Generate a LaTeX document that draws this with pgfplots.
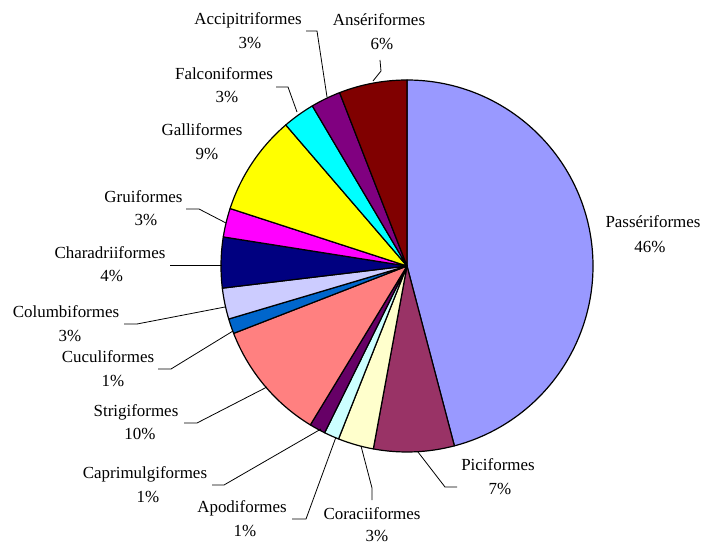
\documentclass[border=0pt]{standalone}
\usepackage{pgfplots}
\pgfplotsset{compat=1.18}
\usepackage{fontspec}
\setmainfont{Liberation Serif}
\definecolor{cPass}{HTML}{9999FF}
\definecolor{cPici}{HTML}{993366}
\definecolor{cCora}{HTML}{FFFFCC}
\definecolor{cApod}{HTML}{CCFFFF}
\definecolor{cCapr}{HTML}{660066}
\definecolor{cStri}{HTML}{FF8080}
\definecolor{cCucu}{HTML}{0066CC}
\definecolor{cColu}{HTML}{CCCCFF}
\definecolor{cChar}{HTML}{000080}
\definecolor{cGrui}{HTML}{FF00FF}
\definecolor{cGall}{HTML}{FFFF00}
\definecolor{cFalc}{HTML}{00FFFF}
\definecolor{cAcci}{HTML}{800080}
\definecolor{cAnse}{HTML}{800000}
\newcommand\lbl{\fontsize{17}{24}\selectfont}
\gdef\cum{0}
% value (percent of the whole), colour
\newcommand\slice[2]{%
  \pgfmathsetmacro\sa{90-3.6*\cum}%
  \pgfmathsetmacro\newcum{\cum+#1}%
  \pgfmathsetmacro\ea{90-3.6*\newcum}%
  \xdef\cum{\newcum}%
  \edef\temp{\noexpand\filldraw[fill=#2,draw=black,line width=1.2bp,line join=round] (axis cs:407,266) -- ++(\sa:186bp) arc[start angle=\sa, end angle=\ea, radius=186bp] -- cycle;}%
  \temp}
\begin{document}
\begin{tikzpicture}
\begin{axis}[hide axis, x=1bp, y=1bp, xmin=0, xmax=704, ymin=0, ymax=545,
  y dir=reverse, scale only axis, enlargelimits=false, clip=false]
\slice{45.9}{cPass}
\slice{7.0}{cPici}
\slice{3.1}{cCora}
\slice{1.3}{cApod}
\slice{1.4}{cCapr}
\slice{10.4}{cStri}
\slice{1.3}{cCucu}
\slice{2.7}{cColu}
\slice{4.4}{cChar}
\slice{2.5}{cGrui}
\slice{8.7}{cGall}
\slice{2.8}{cFalc}
\slice{2.6}{cAcci}
\slice{5.9}{cAnse}
% leader lines
\draw[line width=0.8bp] (axis cs:306,31) -- (axis cs:317,31) -- (axis cs:327,97);
\draw[line width=0.8bp] (axis cs:380,60) -- (axis cs:381,71) -- (axis cs:373,81);
\draw[line width=0.8bp] (axis cs:276,87) -- (axis cs:288,87) -- (axis cs:297,112);
\draw[line width=0.8bp] (axis cs:186,209) -- (axis cs:199,209) -- (axis cs:226,223);
\draw[line width=0.8bp] (axis cs:170,265) -- (axis cs:222,265);
\draw[line width=0.8bp] (axis cs:124,324) -- (axis cs:137,324) -- (axis cs:225,307);
\draw[line width=0.8bp] (axis cs:158,369) -- (axis cs:171,369) -- (axis cs:233,331);
\draw[line width=0.8bp] (axis cs:184,423) -- (axis cs:197,423) -- (axis cs:267,387);
\draw[line width=0.8bp] (axis cs:212,485) -- (axis cs:224,485) -- (axis cs:321,429);
\draw[line width=0.8bp] (axis cs:292,519) -- (axis cs:306,519) -- (axis cs:336,437);
\draw[line width=0.8bp] (axis cs:372,500) -- (axis cs:372,488) -- (axis cs:361,446);
\draw[line width=0.8bp] (axis cs:457,487) -- (axis cs:445,487) -- (axis cs:418,452);
% labels
\tikzset{lb/.style={anchor=base, inner sep=0pt, font=\lbl}}
\node[lb] at (axis cs:653,228) {Passériformes};
\node[lb] at (axis cs:650,252.5) {46\%};
\node[lb] at (axis cs:498,470) {Piciformes};
\node[lb] at (axis cs:500,494) {7\%};
\node[lb] at (axis cs:372,519) {Coraciiformes};
\node[lb] at (axis cs:377,541.5) {3\%};
\node[lb] at (axis cs:242,512) {Apodiformes};
\node[lb] at (axis cs:245,536) {1\%};
\node[lb] at (axis cs:145,478) {Caprimulgiformes};
\node[lb] at (axis cs:148,502.5) {1\%};
\node[lb] at (axis cs:136,416) {Strigiformes};
\node[lb] at (axis cs:140,439.5) {10\%};
\node[lb] at (axis cs:108,362) {Cuculiformes};
\node[lb] at (axis cs:113,386.5) {1\%};
\node[lb] at (axis cs:66,317.7) {Columbiformes};
\node[lb] at (axis cs:70,341.7) {3\%};
\node[lb] at (axis cs:110,258.3) {Charadriiformes};
\node[lb] at (axis cs:111.7,281.7) {4\%};
\node[lb] at (axis cs:143.5,202.7) {Gruiformes};
\node[lb] at (axis cs:146,226) {3\%};
\node[lb] at (axis cs:202,136) {Galliformes};
\node[lb] at (axis cs:207,160) {9\%};
\node[lb] at (axis cs:224,80) {Falconiformes};
\node[lb] at (axis cs:227,103) {3\%};
\node[lb] at (axis cs:248,25) {Accipitriformes};
\node[lb] at (axis cs:250,48.5) {3\%};
\node[lb] at (axis cs:379,26) {Ansériformes};
\node[lb] at (axis cs:382,50) {6\%};
\end{axis}
\pgfresetboundingbox
\path (current axis.south west) rectangle (current axis.north east);
\end{tikzpicture}
\end{document}
